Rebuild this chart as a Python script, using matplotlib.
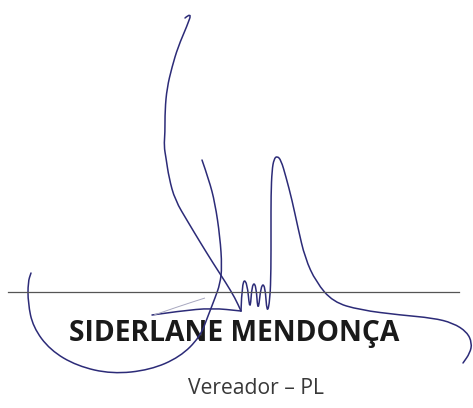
import matplotlib
matplotlib.use("Agg")
import matplotlib.pyplot as plt
from matplotlib.path import Path
from matplotlib.patches import PathPatch
import numpy as np

# signature strokes, pixel coords of the 473x408 picture (y grows downward)
stroke_long = [(185, 18), (192, 12), (187, 26), (178, 47), (172, 67), (167, 88),
               (165, 110), (165, 133), (164, 146), (166, 158), (169, 178),
               (175, 200), (188, 222), (200, 242), (213, 263), (226, 283),
               (235, 298), (241, 311)]
stroke_m = [(241, 311), (242, 281), (247, 281), (250, 313), (252, 284),
            (256, 284), (258, 314), (261, 285), (265, 285), (267, 314),
            (270, 300), (271, 270), (271, 230), (271, 195), (272, 170),
            (274, 159), (277, 156), (281, 160), (286, 177), (292, 200),
            (298, 228), (305, 258), (316, 282), (333, 302), (360, 310),
            (400, 315), (433, 318), (453, 323), (467, 332), (472, 343),
            (470, 353), (463, 363)]
stroke_j = [(202, 160), (209, 180), (215, 203), (220, 237), (222, 267),
            (220, 284), (215, 298), (208, 316), (200, 337), (180, 357),
            (150, 370), (112, 374), (77, 366), (50, 350), (33, 327),
            (28, 303), (28, 282), (31, 273)]
stroke_bar = [(152, 315), (180, 311), (212, 308), (241, 311)]
stroke_faint = [(154, 315), (180, 306), (205, 298)]

rule_y = 292
rule_x = (8, 459)

name = "SIDERLANE MENDONÇA"
role = "Vereador – PL"
ink = "#2c2b78"


def smooth_path(pts):
    pts = np.array(pts, dtype=float)
    verts = [pts[0]]
    codes = [Path.MOVETO]
    for i in range(1, len(pts) - 1):
        mid = (pts[i] + pts[i + 1]) / 2
        verts += [pts[i], mid]
        codes += [Path.CURVE3, Path.CURVE3]
    verts.append(pts[-1])
    codes.append(Path.LINETO)
    return Path(verts, codes)


fig = plt.figure(figsize=(4.73, 4.08), dpi=100)
ax = fig.add_axes([0, 0, 1, 1])
ax.set_xlim(0, 473)
ax.set_ylim(408, 0)
ax.axis("off")

ax.plot(rule_x, [rule_y, rule_y], color="#555555", lw=0.9)

for s in [stroke_long, stroke_m, stroke_j, stroke_bar]:
    ax.add_patch(PathPatch(smooth_path(s), fill=False, edgecolor=ink, lw=1.1,
                           capstyle="round", joinstyle="round"))
ax.add_patch(PathPatch(smooth_path(stroke_faint), fill=False,
                       edgecolor="#a8a8c0", lw=0.7))

ax.text(234, 334, name, ha="center", va="center", fontsize=20.3,
        fontweight="bold", family="Open Sans", color="#1a1a1a", zorder=0)
ax.text(256, 389, role, ha="center", va="center", fontsize=15.2,
        family="Open Sans", color="#383838")

fig.savefig("out.png", dpi=100)
